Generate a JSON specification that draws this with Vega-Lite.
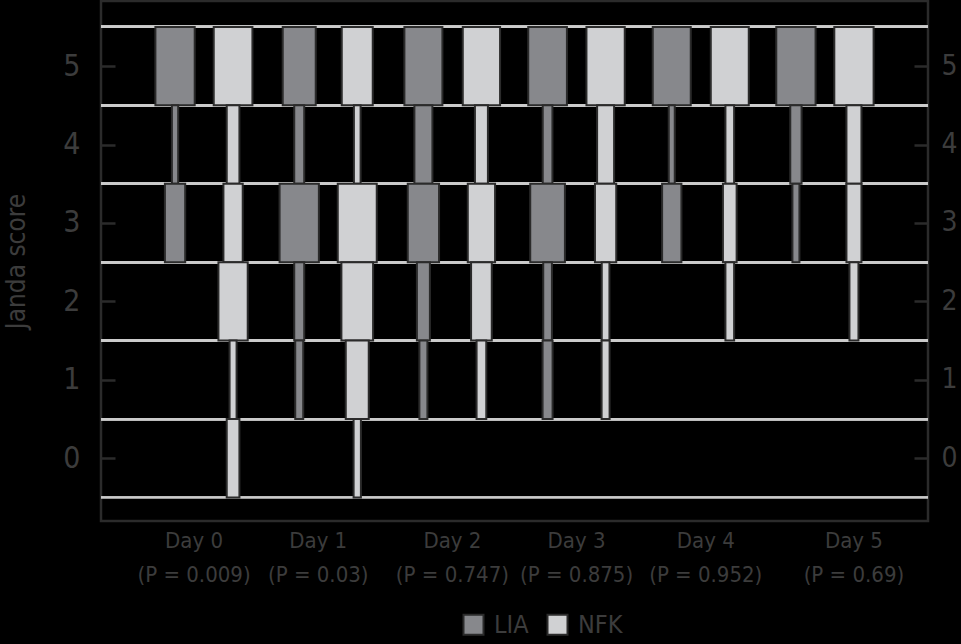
{
  "$schema": "https://vega.github.io/schema/vega-lite/v6.json",
  "width": 827,
  "height": 520,
  "autosize": "none",
  "padding": {"left": 101, "top": 1, "right": 33, "bottom": 123},
  "background": "#000000",
  "config": {
    "view": {"stroke": "#2b2b2b", "strokeWidth": 2.5},
    "font": "DejaVu Sans Condensed"
  },
  "data": {
    "values": [
      {"day": "Day 0", "p": "0.009", "group": "LIA", "score": 5, "freq": 39.3},
      {"day": "Day 0", "p": "0.009", "group": "LIA", "score": 4, "freq": 6.3},
      {"day": "Day 0", "p": "0.009", "group": "LIA", "score": 3, "freq": 20.3},
      {"day": "Day 0", "p": "0.009", "group": "NFK", "score": 5, "freq": 38.7},
      {"day": "Day 0", "p": "0.009", "group": "NFK", "score": 4, "freq": 12.7},
      {"day": "Day 0", "p": "0.009", "group": "NFK", "score": 3, "freq": 19.3},
      {"day": "Day 0", "p": "0.009", "group": "NFK", "score": 2, "freq": 29.3},
      {"day": "Day 0", "p": "0.009", "group": "NFK", "score": 1, "freq": 7},
      {"day": "Day 0", "p": "0.009", "group": "NFK", "score": 0, "freq": 12.7},
      {"day": "Day 1", "p": "0.03", "group": "LIA", "score": 5, "freq": 33},
      {"day": "Day 1", "p": "0.03", "group": "LIA", "score": 4, "freq": 10},
      {"day": "Day 1", "p": "0.03", "group": "LIA", "score": 3, "freq": 39.3},
      {"day": "Day 1", "p": "0.03", "group": "LIA", "score": 2, "freq": 10},
      {"day": "Day 1", "p": "0.03", "group": "LIA", "score": 1, "freq": 8},
      {"day": "Day 1", "p": "0.03", "group": "NFK", "score": 5, "freq": 31},
      {"day": "Day 1", "p": "0.03", "group": "NFK", "score": 4, "freq": 6.7},
      {"day": "Day 1", "p": "0.03", "group": "NFK", "score": 3, "freq": 39},
      {"day": "Day 1", "p": "0.03", "group": "NFK", "score": 2, "freq": 31.7},
      {"day": "Day 1", "p": "0.03", "group": "NFK", "score": 1, "freq": 23},
      {"day": "Day 1", "p": "0.03", "group": "NFK", "score": 0, "freq": 7.3},
      {"day": "Day 2", "p": "0.747", "group": "LIA", "score": 5, "freq": 38},
      {"day": "Day 2", "p": "0.747", "group": "LIA", "score": 4, "freq": 18},
      {"day": "Day 2", "p": "0.747", "group": "LIA", "score": 3, "freq": 31.3},
      {"day": "Day 2", "p": "0.747", "group": "LIA", "score": 2, "freq": 13},
      {"day": "Day 2", "p": "0.747", "group": "LIA", "score": 1, "freq": 8},
      {"day": "Day 2", "p": "0.747", "group": "NFK", "score": 5, "freq": 37.3},
      {"day": "Day 2", "p": "0.747", "group": "NFK", "score": 4, "freq": 13},
      {"day": "Day 2", "p": "0.747", "group": "NFK", "score": 3, "freq": 27.3},
      {"day": "Day 2", "p": "0.747", "group": "NFK", "score": 2, "freq": 20.7},
      {"day": "Day 2", "p": "0.747", "group": "NFK", "score": 1, "freq": 9.7},
      {"day": "Day 3", "p": "0.875", "group": "LIA", "score": 5, "freq": 38.7},
      {"day": "Day 3", "p": "0.875", "group": "LIA", "score": 4, "freq": 9.7},
      {"day": "Day 3", "p": "0.875", "group": "LIA", "score": 3, "freq": 34.7},
      {"day": "Day 3", "p": "0.875", "group": "LIA", "score": 2, "freq": 8.7},
      {"day": "Day 3", "p": "0.875", "group": "LIA", "score": 1, "freq": 10},
      {"day": "Day 3", "p": "0.875", "group": "NFK", "score": 5, "freq": 38.3},
      {"day": "Day 3", "p": "0.875", "group": "NFK", "score": 4, "freq": 17},
      {"day": "Day 3", "p": "0.875", "group": "NFK", "score": 3, "freq": 21.3},
      {"day": "Day 3", "p": "0.875", "group": "NFK", "score": 2, "freq": 7.7},
      {"day": "Day 3", "p": "0.875", "group": "NFK", "score": 1, "freq": 8},
      {"day": "Day 4", "p": "0.952", "group": "LIA", "score": 5, "freq": 38},
      {"day": "Day 4", "p": "0.952", "group": "LIA", "score": 4, "freq": 6},
      {"day": "Day 4", "p": "0.952", "group": "LIA", "score": 3, "freq": 19.3},
      {"day": "Day 4", "p": "0.952", "group": "NFK", "score": 5, "freq": 38},
      {"day": "Day 4", "p": "0.952", "group": "NFK", "score": 4, "freq": 8.7},
      {"day": "Day 4", "p": "0.952", "group": "NFK", "score": 3, "freq": 13.7},
      {"day": "Day 4", "p": "0.952", "group": "NFK", "score": 2, "freq": 8.7},
      {"day": "Day 5", "p": "0.69", "group": "LIA", "score": 5, "freq": 39.3},
      {"day": "Day 5", "p": "0.69", "group": "LIA", "score": 4, "freq": 11.3},
      {"day": "Day 5", "p": "0.69", "group": "LIA", "score": 3, "freq": 7},
      {"day": "Day 5", "p": "0.69", "group": "NFK", "score": 5, "freq": 39.3},
      {"day": "Day 5", "p": "0.69", "group": "NFK", "score": 4, "freq": 15},
      {"day": "Day 5", "p": "0.69", "group": "NFK", "score": 3, "freq": 15},
      {"day": "Day 5", "p": "0.69", "group": "NFK", "score": 2, "freq": 9}
    ]
  },
  "transform": [
    {"calculate": "datum.score - 0.5", "as": "lo"},
    {"calculate": "datum.score + 0.5", "as": "hi"},
    {"calculate": "datum.day + '|(P = ' + datum.p + ')'", "as": "daylabel"}
  ],
  "resolve": {"axis": {"y": "independent"}},
  "layer": [
    {
      "mark": {"type": "rule", "color": "#cbcbcb", "strokeWidth": 2.2},
      "encoding": {
        "y": {
          "field": "lo",
          "type": "quantitative",
          "scale": {"domain": [-0.8, 5.83], "nice": false, "zero": false},
          "axis": {
            "orient": "left",
            "values": [0, 1, 2, 3, 4, 5],
            "format": "d",
            "grid": false,
            "domain": false,
            "ticks": true,
            "tickSize": -14,
            "tickWidth": 2.5,
            "tickColor": "#2b2b2b",
            "labelFontSize": 30,
            "labelColor": "#3c3c3c",
            "labelPadding": 35,
            "title": "Janda score",
            "titleFontSize": 26,
            "titleFontWeight": "normal",
            "titleColor": "#3c3c3c",
            "titlePadding": 33
          }
        }
      }
    },
    {
      "mark": {"type": "rule", "color": "#cbcbcb", "strokeWidth": 2.2},
      "encoding": {
        "y": {
          "field": "hi",
          "type": "quantitative",
          "axis": {
            "orient": "right",
            "values": [0, 1, 2, 3, 4, 5],
            "format": "d",
            "grid": false,
            "domain": false,
            "ticks": true,
            "tickSize": -14,
            "tickWidth": 2.5,
            "tickColor": "#2b2b2b",
            "labelFontSize": 28,
            "labelColor": "#3c3c3c",
            "labelPadding": 27,
            "title": null
          }
        }
      }
    },
    {
      "mark": {"type": "bar", "stroke": "#2b2b2b", "strokeWidth": 2},
      "encoding": {
        "x": {
          "field": "daylabel",
          "type": "nominal",
          "sort": null,
          "scale": {"paddingInner": 0, "paddingOuter": 0.33},
          "axis": {
            "orient": "bottom",
            "title": null,
            "domain": false,
            "ticks": false,
            "labelAngle": 0,
            "labelExpr": "split(datum.label, '|')",
            "labelFontSize": 22,
            "labelColor": "#3c3c3c",
            "labelLineHeight": 34,
            "labelPadding": 9,
            "labelOffset": {
              "condition": [
                {"test": "datum.value === 'Day 5|(P = 0.69)'", "value": 29},
                {"test": "datum.value === 'Day 4|(P = 0.952)'", "value": 5},
                {"test": "datum.value === 'Day 0|(P = 0.009)'", "value": -10},
                {"test": "datum.value === 'Day 1|(P = 0.03)'", "value": -10}
              ],
              "value": 0
            }
          }
        },
        "xOffset": {
          "field": "group",
          "type": "nominal",
          "scale": {"paddingInner": 0, "paddingOuter": 0.07}
        },
        "y": {"field": "lo", "type": "quantitative", "axis": null},
        "y2": {"field": "hi"},
        "size": {
          "field": "freq",
          "type": "quantitative",
          "scale": {"type": "linear", "domain": [0, 40], "range": [0, 40]},
          "legend": null
        },
        "color": {
          "field": "group",
          "type": "nominal",
          "scale": {"domain": ["LIA", "NFK"], "range": ["#87888c", "#d0d1d3"]},
          "legend": {
            "orient": "none",
            "legendX": 360,
            "legendY": 611,
            "direction": "horizontal",
            "title": null,
            "symbolType": "square",
            "symbolSize": 400,
            "symbolStrokeColor": "#2b2b2b",
            "symbolStrokeWidth": 2,
            "symbolOpacity": 1,
            "labelFontSize": 25,
            "labelColor": "#3c3c3c",
            "labelOffset": 8,
            "columnPadding": 14
          }
        }
      }
    }
  ]
}
